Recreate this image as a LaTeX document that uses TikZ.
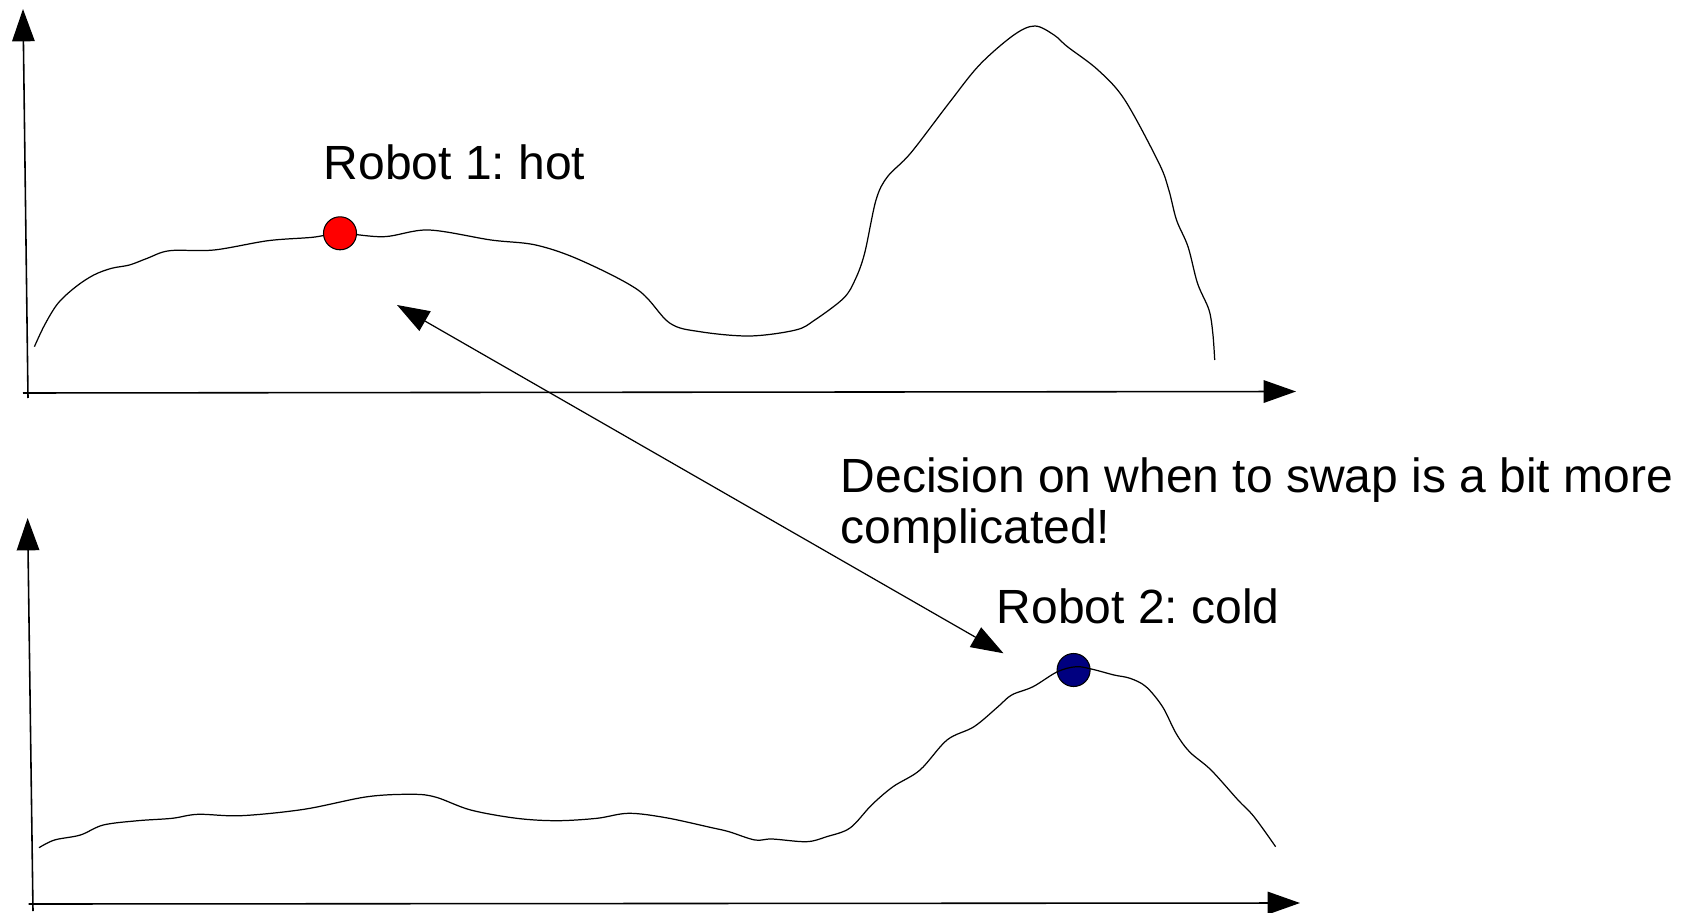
\documentclass[tikz,border=0pt]{standalone}
\usepackage{fontspec}
\setmainfont{Liberation Sans}
\usetikzlibrary{arrows.meta}
\frenchspacing
\begin{document}
\begin{tikzpicture}[x=0.01cm,y=-0.01cm,
  axis/.style={line width=0.45pt,-{Triangle[length=9.2pt,width=6.4pt]}},
  landscape/.style={line width=0.35pt},
  robot/.style={circle,draw=black,line width=0.3pt,minimum size=0.33cm,inner sep=0pt},
  swap/.style={line width=0.35pt,{Triangle[length=9.2pt,width=6.4pt]}-{Triangle[length=9.2pt,width=6.4pt]}},
  label/.style={inner sep=0pt,anchor=base west,font=\fontsize{13.65}{14.6}\selectfont}]
\useasboundingbox (0,0) rectangle (1695,913);

% axes of the upper landscape
\coordinate (ya1) at (28,398);
\coordinate (yb1) at (23,9);
\coordinate (xa1) at (23,393);
\coordinate (xb1) at (1296,391.5);
% axes of the lower landscape
\coordinate (ya2) at (33,911);
\coordinate (yb2) at (27.6,518);
\coordinate (xa2) at (28.7,904);
\coordinate (xb2) at (1300,903);

\draw[axis] (ya1) -- (yb1);
\draw[axis] (xa1) -- (xb1);
\draw[axis] (ya2) -- (yb2);
\draw[axis] (xa2) -- (xb2);

% upper energy landscape
\draw[landscape] plot[smooth,tension=0.55] coordinates {
 (34.4,346.7) (44.6,325) (58,303.3) (75.9,286.7) (93.8,275) (111.6,268.3)
 (129.5,265) (147.3,258.3) (169.6,250.7) (214,250) (268,240.7) (312.5,237.3)
 (340,233.3) (384,236.7) (428.6,230) (491,240) (535.7,245) (580,260)
 (638,290) (669.6,323) (700,331.7) (749.8,336) (795.7,330) (814.8,320)
 (843.5,298.3) (855,280) (864.6,253.3) (876,200) (887.5,176.7) (910.5,153.3)
 (948.8,103.3) (979.4,65) (1013.8,35) (1034.9,26) (1054,35) (1067.4,46.7)
 (1098,70) (1124.8,100) (1159,163.3) (1168.8,190) (1176.5,220) (1188,246.7)
 (1197.5,283.3) (1209,310) (1212.8,333.3) (1214.7,360)};

% lower energy landscape (blue robot sits beneath the line)
\node[robot,fill={rgb,255:red,0;green,0;blue,128}] (r2) at (1073.6,670) {};
\draw[landscape] plot[smooth,tension=0.55] coordinates {
 (39,847.7) (54.5,840) (80.4,835) (103.3,825) (137.8,820.7) (172.2,818.3)
 (198,814.3) (241,815.7) (304,809.3) (367.4,796.7) (413.3,794.3) (436.3,797.3)
 (470.7,810) (516.6,818.3) (556.8,820.7) (597,818.3) (628.6,813.3) (665.9,817.7)
 (711.8,827.7) (729,831.7) (754.9,840) (772,839) (806.5,841.7) (826.6,836.7)
 (850,828) (871.6,805) (893,786.7) (920,770) (947,740) (974,726.7)
 (998,706.7) (1011.6,695) (1033,686.7) (1057.4,671.7) (1076.3,666.7)
 (1092.5,669.3) (1114,675) (1130,678.3) (1146,686.7) (1162.5,706.7)
 (1176,733.3) (1189.4,751.7) (1211,770) (1238,800) (1254,816.7) (1275.6,846.7)};

% red robot on top of the upper line
\node[robot,fill={rgb,255:red,255;green,0;blue,0}] (r1) at (340,233.3) {};

% labels
\node[label] (t1) at (323,179.5) {Robot 1: hot};
\node[label] (t2) at (996,623) {Robot 2: cold};
\node[label,align=left] (dec) at (840,543.5) {Decision on when to swap is a bit more\\complicated!};

% swap arrow
\coordinate (sa) at (397,305);
\coordinate (sb) at (1003.5,653.3);
\draw[swap] (sa) -- (sb);
\end{tikzpicture}
\end{document}
